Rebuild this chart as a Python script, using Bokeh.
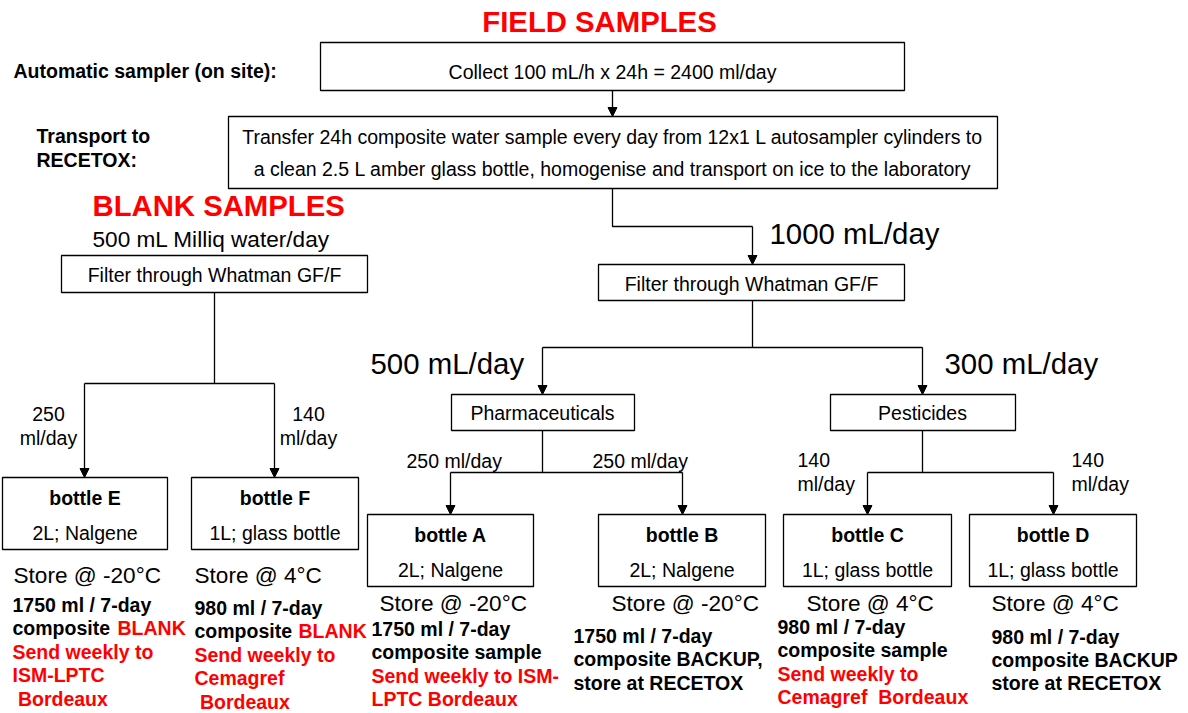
from bokeh.plotting import figure
from bokeh.models import Range1d, Arrow, NormalHead, ColumnDataSource
from bokeh.core.properties import value
from bokeh.embed import file_html
from bokeh.resources import INLINE

FONT = "Liberation Sans"
RED = "#ff0000"
NB = "\u00a0"

# ---------------- content (texts) ----------------
field_title = "FIELD SAMPLES"
blank_title = "BLANK SAMPLES"
stage_labels = ["Automatic sampler (on site):", "Transport to", "RECETOX:"]
collect_text = "Collect 100 mL/h x 24h = 2400 ml/day"
transfer_lines = ["Transfer 24h composite water sample every day from 12x1 L autosampler cylinders to",
                  "a clean 2.5 L amber glass bottle, homogenise and transport on ice to the laboratory"]
filter_text = "Filter through Whatman GF/F"
blank_volume = "500 mL Milliq water/day"
flow_big = ["1000 mL/day", "500 mL/day", "300 mL/day"]
branch_names = ["Pharmaceuticals", "Pesticides"]
bottle_names = ["bottle E", "bottle F", "bottle A", "bottle B", "bottle C", "bottle D"]
bottle_types = ["2L; Nalgene", "1L; glass bottle", "2L; Nalgene", "2L; Nalgene",
                "1L; glass bottle", "1L; glass bottle"]
storage = ["Store @ -20°C", "Store @ 4°C", "Store @ -20°C", "Store @ -20°C",
           "Store @ 4°C", "Store @ 4°C"]
flow_small_single = ["250 ml/day", "250 ml/day"]
flow_small_two = [("250", "ml/day"), ("140", "ml/day"), ("140", "ml/day"), ("140", "ml/day")]
# notes per bottle: list of (text, colour key)
notes = [
    [("1750 ml / 7-day", "k"), ("composite ", "k"), ("Send weekly to", "r"), ("ISM-LPTC", "r"), (NB + "Bordeaux", "r")],
    [("980 ml / 7-day", "k"), ("composite ", "k"), ("Send weekly to", "r"), ("Cemagref", "r"), (NB + "Bordeaux", "r")],
    [("1750 ml / 7-day", "k"), ("composite sample", "k"), ("Send weekly to ISM-", "r"), ("LPTC Bordeaux", "r")],
    [("1750 ml / 7-day", "k"), ("composite BACKUP,", "k"), ("store at RECETOX", "k")],
    [("980 ml / 7-day", "k"), ("composite sample", "k"), ("Send weekly to", "r"), ("Cemagref" + NB + " Bordeaux", "r")],
    [("980 ml / 7-day", "k"), ("composite BACKUP", "k"), ("store at RECETOX", "k")],
]
blank_word = "BLANK"

# ---------------- layout (pixel positions) ----------------
W, H = 1188, 711
p = figure(width=W, height=H, x_range=Range1d(0, W), y_range=Range1d(H, 0),
           output_backend="svg", toolbar_location=None, min_border=0)
p.axis.visible = False
p.grid.visible = False
p.outline_line_color = None
p.background_fill_color = "white"
p.border_fill_color = "white"

def txt(x, y, t, size, bold=False, color="black", align="left"):
    p.text(x=[x], y=[y], text=[t], text_font=value(FONT), text_font_size=f"{size}px",
           text_font_style="bold" if bold else "normal", text_color=color,
           text_align=align, text_baseline="middle")

def box(l, r, t, b):
    p.quad(left=[l], right=[r], top=[t], bottom=[b], fill_color="white",
           line_color="black", line_width=1.3)

LW = 1.3
def lines(xs, ys):
    p.line(x=xs, y=ys, line_color="black", line_width=LW)

arrows = dict(x0=[], y0=[], x1=[], y1=[])
def arrow(x, y0, y1):
    arrows["x0"].append(x); arrows["y0"].append(y0)
    arrows["x1"].append(x); arrows["y1"].append(y1)

# titles
txt(599, 21, field_title, 29.3, True, RED, "center")
txt(92, 205, blank_title, 29.3, True, RED, "left")

# stage labels
txt(13, 70, stage_labels[0], 19.5, True)
txt(36, 135, stage_labels[1], 19.5, True)
txt(36, 159, stage_labels[2], 19.5, True)

# top boxes
box(320, 904, 42, 90)
txt(612, 71, collect_text, 19.5, False, "black", "center")
arrow(612, 90, 116)
box(228, 997, 116, 188)
txt(612, 136, transfer_lines[0], 19.5, False, "black", "center")
txt(612, 168, transfer_lines[1], 19.5, False, "black", "center")

# field filter
lines([612, 612, 752], [188, 226, 226])
arrow(752, 226, 264)
txt(769, 233, flow_big[0], 29.4)
box(598, 904, 264, 300)
txt(751, 283, filter_text, 19.5, False, "black", "center")
lines([752, 752], [300, 347])
lines([542, 922], [347, 347])
arrow(542, 347, 394)
arrow(922, 347, 394)
txt(370, 363, flow_big[1], 29.4)
txt(944, 363, flow_big[2], 29.4)

# branches
box(451, 634, 394, 430)
txt(542, 412, branch_names[0], 19.5, False, "black", "center")
box(830, 1015, 394, 430)
txt(922, 412, branch_names[1], 19.5, False, "black", "center")

lines([542, 542], [430, 472]); lines([450, 682], [472, 472])
arrow(450, 472, 514); arrow(682, 472, 514)
lines([922, 922], [430, 472]); lines([867, 1053], [472, 472])
arrow(867, 472, 514); arrow(1053, 472, 514)
txt(406, 460, flow_small_single[0], 19.5)
txt(592, 460, flow_small_single[1], 19.5)
txt(797, 459, flow_small_two[2][0], 19.5); txt(797, 483, flow_small_two[2][1], 19.5)
txt(1071, 459, flow_small_two[3][0], 19.5); txt(1071, 483, flow_small_two[3][1], 19.5)

# blank branch
txt(92, 239, blank_volume, 22.6)
box(61, 367, 255, 292)
txt(214, 274, filter_text, 19.5, False, "black", "center")
lines([214, 214], [292, 383]); lines([84, 274], [383, 383])
arrow(84, 383, 477); arrow(274, 383, 477)
txt(48, 413, flow_small_two[0][0], 19.5, False, "black", "center")
txt(48, 437, flow_small_two[0][1], 19.5, False, "black", "center")
txt(308, 413, flow_small_two[1][0], 19.5, False, "black", "center")
txt(308, 437, flow_small_two[1][1], 19.5, False, "black", "center")

# bottles
bx = [(2, 167), (191, 358), (367, 533), (598, 765), (783, 951), (969, 1136)]
by = [(477, 549), (477, 549), (514, 586), (514, 586), (514, 586), (514, 586)]
store_pos = [(13, 575), (194, 575), (379, 603), (611, 603), (806, 603), (991, 603)]
note_x = [12, 194, 371, 573, 777, 991]
note_y0 = [604, 607, 628, 635, 626, 636]
note_dy = [23.5, 23.5, 23.5, 23.5, 23.5, 23.3]
blank_x = [117, 298]
for i in range(6):
    (l, r), (t, b) = bx[i], by[i]
    box(l, r, t, b)
    cx = (l + r) / 2
    txt(cx, t + 20, bottle_names[i], 19.5, True, "black", "center")
    txt(cx, t + 55, bottle_types[i], 19.5, False, "black", "center")
    sx, sy = store_pos[i]
    txt(sx, sy, storage[i], 22.6)
    for j, (s, c) in enumerate(notes[i]):
        x = note_x[i]
        txt(x, note_y0[i] + j * note_dy[i], s, 19.5, True, RED if c == "r" else "black")
    if i < 2:
        txt(blank_x[i], note_y0[i] + note_dy[i], blank_word, 19.5, True, RED)

src = ColumnDataSource(arrows)
p.add_layout(Arrow(source=src, x_start="x0", y_start="y0", x_end="x1", y_end="y1",
                   line_color="black", line_width=LW,
                   end=NormalHead(size=9, fill_color="black", line_color="black", line_width=1)))

open("out.html", "w").write(file_html(p, INLINE))
